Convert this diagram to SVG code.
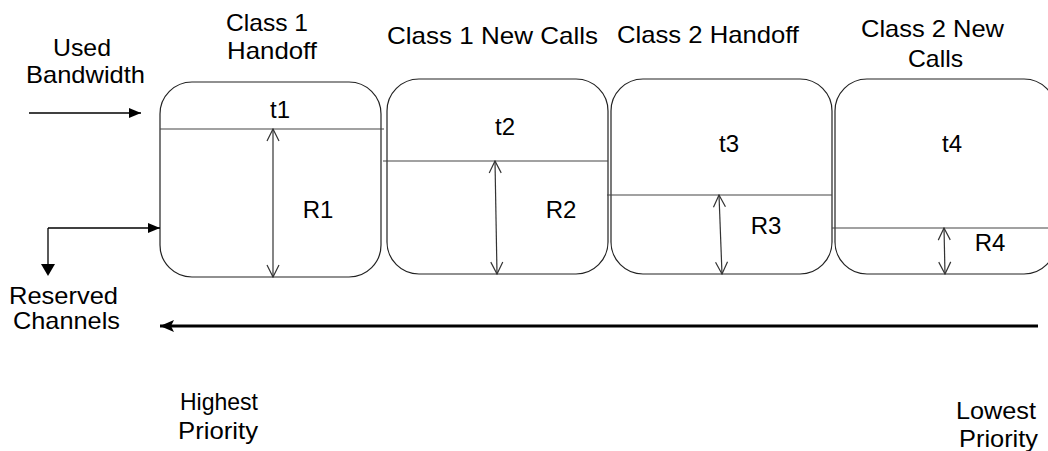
<svg xmlns="http://www.w3.org/2000/svg" width="1048" height="451" viewBox="0 0 1048 451">
<style>
text{font-family:"Liberation Sans",Arial,sans-serif;font-size:24px;fill:#000}
.box{fill:#fff;stroke:#222;stroke-width:1.2}
.div{stroke:#444;stroke-width:1.2;fill:none}
.dim{stroke:#333;stroke-width:1.2;fill:none;marker-start:url(#open);marker-end:url(#open)}
.conn{stroke:#000;stroke-width:1.3;fill:none;marker-end:url(#solid)}
</style>
<defs>
<marker id="open" viewBox="0 0 14 14" refX="13" refY="7" markerWidth="14" markerHeight="14" markerUnits="userSpaceOnUse" orient="auto-start-reverse">
<path d="M1,1 L13,7 L1,13" fill="none" stroke="#333" stroke-width="1.2"/>
</marker>
<marker id="solid" viewBox="0 0 12 10" refX="12" refY="5" markerWidth="12" markerHeight="10" markerUnits="userSpaceOnUse" orient="auto">
<path d="M0,0 L12,5 L0,10 Z" fill="#000"/>
</marker>
<marker id="solidBig" viewBox="0 0 14 12" refX="14" refY="6" markerWidth="14" markerHeight="12" markerUnits="userSpaceOnUse" orient="auto">
<path d="M0,0 L14,6 L0,12 L3,6 Z" fill="#000"/>
</marker>
</defs>

<g id="labels-left">
<text x="53" y="56" textLength="58" lengthAdjust="spacingAndGlyphs">Used</text>
<text x="26" y="83" textLength="119" lengthAdjust="spacingAndGlyphs">Bandwidth</text>
<text x="9" y="304" textLength="109" lengthAdjust="spacingAndGlyphs">Reserved</text>
<text x="13" y="329" textLength="107" lengthAdjust="spacingAndGlyphs">Channels</text>
<text x="180" y="410" textLength="78" lengthAdjust="spacingAndGlyphs">Highest</text>
<text x="178" y="439" textLength="80" lengthAdjust="spacingAndGlyphs">Priority</text>
<text x="956" y="419" textLength="80" lengthAdjust="spacingAndGlyphs">Lowest</text>
<text x="959" y="447" textLength="79" lengthAdjust="spacingAndGlyphs">Priority</text>
</g>

<g id="node-class1-handoff">
<text x="226" y="31" textLength="82" lengthAdjust="spacingAndGlyphs">Class 1</text>
<text x="227" y="59" textLength="90" lengthAdjust="spacingAndGlyphs">Handoff</text>
<rect class="box" x="160" y="82" width="221" height="195" rx="32" ry="32"/>
<line class="div" x1="160" y1="129" x2="384" y2="129"/>
<text x="280" y="118" text-anchor="middle">t1</text>
<line class="dim" x1="273" y1="129" x2="273" y2="277"/>
<text x="318" y="218" text-anchor="middle">R1</text>
</g>

<g id="node-class1-new">
<text x="387" y="44" textLength="211" lengthAdjust="spacingAndGlyphs">Class 1 New Calls</text>
<rect class="box" x="387" y="79" width="221" height="195" rx="32" ry="32"/>
<line class="div" x1="383" y1="161" x2="608" y2="161"/>
<text x="505" y="135" text-anchor="middle">t2</text>
<line class="dim" x1="495" y1="161" x2="497" y2="274"/>
<text x="561" y="218" text-anchor="middle">R2</text>
</g>

<g id="node-class2-handoff">
<text x="617" y="43" textLength="182" lengthAdjust="spacingAndGlyphs">Class 2 Handoff</text>
<rect class="box" x="611" y="79" width="221" height="195" rx="32" ry="32"/>
<line class="div" x1="607" y1="195" x2="832" y2="195"/>
<text x="729" y="152" text-anchor="middle">t3</text>
<line class="dim" x1="719" y1="195" x2="722" y2="274"/>
<text x="766" y="234" text-anchor="middle">R3</text>
</g>

<g id="node-class2-new">
<text x="861" y="37" textLength="143" lengthAdjust="spacingAndGlyphs">Class 2 New</text>
<text x="908" y="67" textLength="55" lengthAdjust="spacingAndGlyphs">Calls</text>
<rect class="box" x="835" y="79" width="221" height="195" rx="32" ry="32"/>
<line class="div" x1="832" y1="228" x2="1048" y2="228"/>
<text x="952" y="152" text-anchor="middle">t4</text>
<line class="dim" x1="944" y1="228" x2="945" y2="274"/>
<text x="990" y="251" text-anchor="middle">R4</text>
</g>

<g id="connectors">
<line class="conn" x1="29" y1="113" x2="141" y2="113"/>
<line class="conn" x1="48" y1="228" x2="160" y2="228"/>
<path d="M48,228 L48,264" stroke="#000" stroke-width="1.3" fill="none"/>
<path d="M41,264 L55,264 L48,276 Z" fill="#000"/>
<line x1="1038" y1="326" x2="160" y2="326" stroke="#000" stroke-width="3" marker-end="url(#solidBig)"/>
</g>
</svg>
